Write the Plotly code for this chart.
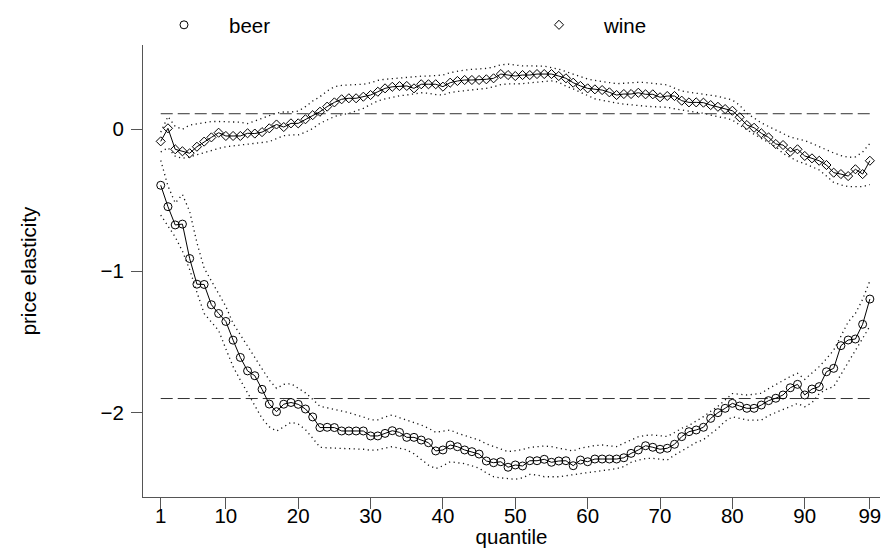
import plotly.graph_objects as go

quantiles = list(range(1, 100))
x_tick_vals = [1, 10, 20, 30, 40, 50, 60, 70, 80, 90, 99]
y_tick_vals = [0, -1, -2]
ref_values = {"wine": 0.11, "beer": -1.9}

wine = [-0.085, 0.007, -0.141, -0.155, -0.169, -0.123, -0.087, -0.057, -0.024, -0.047,
        -0.047, -0.047, -0.028, -0.030, -0.020, 0.007, 0.034, 0.016, 0.042, 0.042,
        0.071, 0.100, 0.124, 0.160, 0.190, 0.212, 0.219, 0.219, 0.230, 0.242,
        0.265, 0.289, 0.300, 0.305, 0.306, 0.289, 0.318, 0.318, 0.318, 0.301,
        0.329, 0.341, 0.348, 0.348, 0.348, 0.353, 0.360, 0.390, 0.383, 0.376,
        0.383, 0.383, 0.390, 0.390, 0.390, 0.376, 0.360, 0.329, 0.306, 0.289,
        0.282, 0.277, 0.261, 0.242, 0.249, 0.249, 0.258, 0.247, 0.247, 0.226,
        0.235, 0.235, 0.202, 0.190, 0.190, 0.188, 0.171, 0.159, 0.143, 0.131,
        0.085, 0.030, 0.011, -0.028, -0.057, -0.104, -0.111, -0.158, -0.141, -0.188,
        -0.205, -0.222, -0.252, -0.306, -0.316, -0.330, -0.282, -0.316, -0.222]

wine_upper = [-0.02, 0.09, 0.02, 0.00, 0.03, 0.04, 0.05, 0.055, 0.055, 0.054,
              0.052, 0.050, 0.040, 0.060, 0.080, 0.100, 0.115, 0.122, 0.122, 0.128,
              0.160, 0.200, 0.230, 0.270, 0.300, 0.310, 0.313, 0.316, 0.318, 0.328,
              0.345, 0.353, 0.358, 0.360, 0.365, 0.370, 0.375, 0.376, 0.380, 0.383,
              0.400, 0.410, 0.418, 0.423, 0.427, 0.430, 0.440, 0.455, 0.460, 0.455,
              0.447, 0.448, 0.449, 0.445, 0.435, 0.425, 0.407, 0.390, 0.368, 0.355,
              0.345, 0.338, 0.332, 0.322, 0.325, 0.330, 0.332, 0.330, 0.325, 0.320,
              0.313, 0.290, 0.270, 0.262, 0.256, 0.250, 0.240, 0.232, 0.220, 0.207,
              0.170, 0.113, 0.080, 0.045, 0.020, -0.005, -0.035, -0.055, -0.068, -0.080,
              -0.100, -0.123, -0.145, -0.167, -0.185, -0.198, -0.195, -0.160, -0.100]

wine_lower = [-0.160, -0.130, -0.190, -0.205, -0.195, -0.180, -0.160, -0.146, -0.135, -0.123,
              -0.118, -0.111, -0.108, -0.100, -0.093, -0.087, -0.065, -0.045, -0.040, -0.040,
              -0.020, 0.005, 0.042, 0.068, 0.090, 0.103, 0.112, 0.130, 0.148, 0.175,
              0.200, 0.214, 0.228, 0.237, 0.242, 0.250, 0.258, 0.255, 0.245, 0.242,
              0.260, 0.267, 0.272, 0.277, 0.283, 0.289, 0.300, 0.316, 0.320, 0.320,
              0.322, 0.328, 0.333, 0.340, 0.342, 0.332, 0.305, 0.285, 0.260, 0.235,
              0.215, 0.205, 0.193, 0.185, 0.178, 0.172, 0.168, 0.163, 0.160, 0.158,
              0.155, 0.145, 0.135, 0.128, 0.120, 0.113, 0.100, 0.089, 0.080, 0.066,
              0.030, -0.005, -0.035, -0.064, -0.095, -0.123, -0.170, -0.200, -0.225, -0.242,
              -0.265, -0.287, -0.330, -0.375, -0.392, -0.405, -0.405, -0.405, -0.390]

beer = [-0.395, -0.546, -0.675, -0.669, -0.912, -1.093, -1.095, -1.238, -1.300, -1.356,
        -1.488, -1.610, -1.705, -1.739, -1.835, -1.939, -1.993, -1.940, -1.928, -1.941,
        -1.974, -2.030, -2.105, -2.103, -2.105, -2.129, -2.129, -2.129, -2.129, -2.164,
        -2.164, -2.146, -2.127, -2.139, -2.174, -2.174, -2.193, -2.212, -2.270, -2.263,
        -2.228, -2.240, -2.263, -2.275, -2.292, -2.341, -2.353, -2.346, -2.385, -2.369,
        -2.376, -2.339, -2.339, -2.329, -2.350, -2.341, -2.339, -2.374, -2.334, -2.346,
        -2.327, -2.327, -2.327, -2.327, -2.318, -2.287, -2.263, -2.233, -2.244, -2.258,
        -2.251, -2.223, -2.169, -2.134, -2.122, -2.103, -2.040, -2.000, -1.969, -1.934,
        -1.953, -1.969, -1.969, -1.946, -1.915, -1.898, -1.875, -1.824, -1.800, -1.875,
        -1.833, -1.816, -1.711, -1.687, -1.527, -1.487, -1.480, -1.376, -1.198]

beer_upper = [-0.220, -0.400, -0.520, -0.460, -0.580, -0.800, -0.980, -1.070, -1.150, -1.250,
              -1.370, -1.450, -1.530, -1.615, -1.690, -1.770, -1.828, -1.800, -1.795, -1.830,
              -1.860, -1.905, -1.955, -1.965, -1.975, -1.985, -2.000, -2.016, -2.030, -2.050,
              -2.050, -2.030, -2.016, -2.035, -2.052, -2.070, -2.087, -2.110, -2.138, -2.130,
              -2.122, -2.145, -2.160, -2.175, -2.193, -2.220, -2.240, -2.260, -2.275, -2.268,
              -2.260, -2.245, -2.240, -2.235, -2.240, -2.250, -2.262, -2.270, -2.250, -2.240,
              -2.232, -2.228, -2.235, -2.240, -2.215, -2.190, -2.170, -2.160, -2.157, -2.163,
              -2.168, -2.140, -2.110, -2.090, -2.060, -2.028, -1.990, -1.955, -1.910, -1.865,
              -1.870, -1.875, -1.870, -1.863, -1.830, -1.800, -1.770, -1.745, -1.722, -1.765,
              -1.720, -1.675, -1.620, -1.558, -1.460, -1.360, -1.300, -1.200, -1.070]

beer_lower = [-0.605, -0.680, -0.760, -0.860, -0.990, -1.150, -1.300, -1.360, -1.420, -1.550,
              -1.675, -1.770, -1.860, -1.950, -2.040, -2.100, -2.130, -2.100, -2.068, -2.080,
              -2.120, -2.180, -2.244, -2.248, -2.250, -2.251, -2.251, -2.252, -2.258, -2.265,
              -2.262, -2.250, -2.240, -2.250, -2.263, -2.290, -2.330, -2.370, -2.395, -2.375,
              -2.346, -2.352, -2.360, -2.375, -2.392, -2.425, -2.452, -2.460, -2.465, -2.470,
              -2.460, -2.435, -2.440, -2.452, -2.452, -2.452, -2.445, -2.440, -2.430, -2.423,
              -2.415, -2.408, -2.400, -2.395, -2.380, -2.350, -2.335, -2.323, -2.322, -2.330,
              -2.334, -2.300, -2.270, -2.240, -2.210, -2.190, -2.150, -2.110, -2.060, -2.030,
              -2.040, -2.052, -2.052, -2.052, -2.020, -2.000, -1.975, -1.955, -1.935, -1.958,
              -1.930, -1.865, -1.835, -1.816, -1.730, -1.651, -1.560, -1.470, -1.390]

FONT = "Liberation Sans, Arial, Helvetica, sans-serif"
FS = 20.5
fig = go.Figure()

dot_style = dict(color="#111", width=1.3, dash="1.2px,3.5px")
for band in (wine_upper, wine_lower, beer_upper, beer_lower):
    fig.add_trace(go.Scatter(x=quantiles, y=band, mode="lines", line=dot_style,
                             showlegend=False, hoverinfo="skip"))

for key in ("wine", "beer"):
    fig.add_trace(go.Scatter(x=[quantiles[0], quantiles[-1]], y=[ref_values[key]] * 2,
                             mode="lines", line=dict(color="#333", width=1, dash="12px,5px"),
                             showlegend=False, hoverinfo="skip"))

fig.add_trace(go.Scatter(x=quantiles, y=beer, mode="lines", line=dict(color="black", width=1),
                         showlegend=False))
fig.add_trace(go.Scatter(x=quantiles, y=wine, mode="lines", line=dict(color="black", width=1),
                         showlegend=False))
fig.add_trace(go.Scatter(x=quantiles, y=beer, mode="markers", name="beer", legend="legend",
                         marker=dict(symbol="circle-open", size=8, color="black",
                                     line=dict(width=1, color="black"))))
fig.add_trace(go.Scatter(x=quantiles, y=wine, mode="markers", name="wine", legend="legend2",
                         marker=dict(symbol="diamond-open", size=7, color="black",
                                     line=dict(width=1, color="black"))))

legend_common = dict(orientation="h", xref="container", yref="container", yanchor="middle",
                     xanchor="left", font=dict(family=FONT, size=FS, color="black"),
                     itemwidth=80, bgcolor="rgba(0,0,0,0)", borderwidth=0)

axis_common = dict(ticks="outside", ticklen=11, tickcolor="#555", showline=True,
                   linecolor="#555", linewidth=1, showgrid=False, zeroline=False,
                   automargin=False, tickfont=dict(family=FONT, size=FS, color="black"))

fig.update_layout(
    width=883, height=548,
    margin=dict(l=143, r=3, t=45, b=51, autoexpand=False),
    paper_bgcolor="white", plot_bgcolor="white",
    font=dict(family=FONT, size=FS, color="black"),
    legend=dict(x=139 / 883, y=1 - 25 / 548, **legend_common),
    legend2=dict(x=514 / 883, y=1 - 25 / 548, **legend_common),
    xaxis=dict(range=[-1.45, 100.4], tickvals=x_tick_vals, ticklabelstandoff=-11,
               title=dict(text="quantile", font=dict(family=FONT, size=FS), standoff=2),
               **axis_common),
    yaxis=dict(range=[-2.595, 0.595], tickvals=y_tick_vals, ticklabelstandoff=3,
               title=dict(text="price elasticity", font=dict(family=FONT, size=FS), standoff=58),
               **axis_common),
)

fig.write_html("out.html", config={"displayModeBar": False},
               post_script="document.body.style.margin='0';document.body.style.overflow='hidden';")
